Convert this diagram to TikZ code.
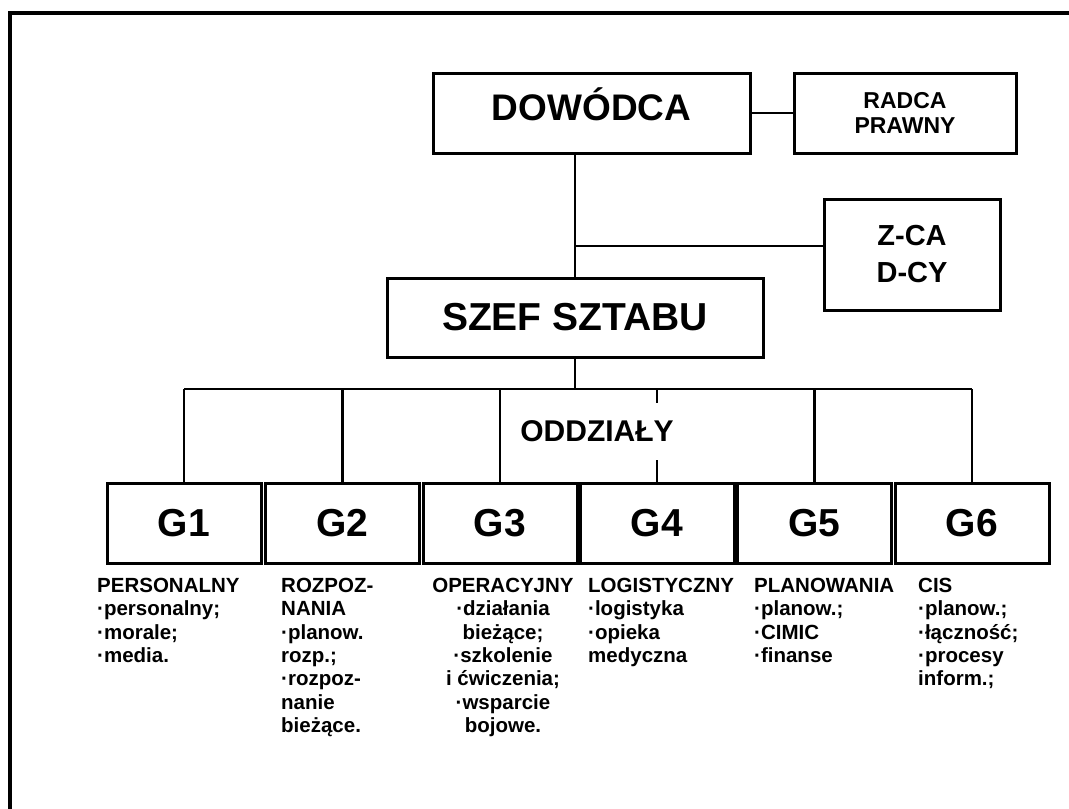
\documentclass[tikz,border=0pt]{standalone}
\usepackage{fontspec}
\setmainfont{Liberation Sans}
\usetikzlibrary{positioning}
\usetikzlibrary{calc}

\tikzset{
  box/.style={draw, line width=3pt, inner sep=0pt, align=center},
  conn/.style={line width=2.6pt},
  opis/.style={inner sep=0pt, font=\fontsize{20.5}{23.3}\selectfont\bfseries},
}

\begin{document}
\begin{tikzpicture}[x=1pt,y=-1pt]
\useasboundingbox (0,0) rectangle (1069,809);
% ramka
\draw[line width=4.5pt](10,809)--(10,13)--(1069,13);

% kierownictwo
\node[box, minimum width=317, minimum height=80, text height=14pt, text depth=0pt, font=\fontsize{37}{44}\selectfont\bfseries](dow) at (591.5,113){DOWÓDCA};
\node[box, minimum width=222, minimum height=80, font=\fontsize{23}{25}\selectfont\bfseries](radca) at (905,113){RADCA\\PRAWNY};
\node[box, minimum width=176, minimum height=111, font=\fontsize{29}{37}\selectfont\bfseries](zca) at (912,254.5){Z-CA\\D-CY};
\node[box, minimum width=376, minimum height=79, font=\fontsize{39}{46}\selectfont\bfseries](szef) at (575,317.5){SZEF SZTABU};

% oddzialy
\foreach \i/\x in {1/184,2/342.5,3/500,4/657,5/814.5,6/972}
  \node[box, minimum width=154, minimum height=80, font=\fontsize{39}{46}\selectfont\bfseries](g\i) at (\x,523){G\i};
\node[inner xsep=0pt, minimum height=57, font=\fontsize{30}{36}\selectfont\bfseries](oddz) at (597,431.5){ODDZIAŁY};

\coordinate (busL) at (g1.north |- 0,389);
\coordinate (busR) at (g6.north |- 0,389);

\draw[conn] (dow.east) -- (radca.west);
\draw[conn] (szef.north |- dow.south) -- (szef.north);
\draw[conn] (szef.north |- 0,246) -- ([yshift=8.5pt]zca.west);
\draw[conn] (szef.south) -- (szef.south |- busL);
\draw[conn] (busL) -- (busR);
\foreach \i in {1,2,3,5,6}
  \draw[conn] (g\i.north |- busL) -- (g\i.north);
\draw[conn] (g4.north |- busL) -- (g4.north |- oddz.north);
\draw[conn] (g4.north |- oddz.south) -- (g4.north);

% zadania
\node[opis, anchor=north west, align=left](t1) at (97,578){PERSONALNY\\·personalny;\\·morale;\\·media.};
\node[opis, anchor=north west, align=left](t2) at (281,578){ROZPOZ-\\NANIA\\·planow.\\rozp.;\\·rozpoz-\\nanie\\bieżące.};
\node[opis, anchor=north, align=center](t3) at (503,578){OPERACYJNY\\·działania\\bieżące;\\·szkolenie\\i ćwiczenia;\\·wsparcie\\bojowe.};
\node[opis, anchor=north west, align=left](t4) at (588,578){LOGISTYCZNY\\·logistyka\\·opieka\\medyczna};
\node[opis, anchor=north west, align=left](t5) at (754,578){PLANOWANIA\\·planow.;\\·CIMIC\\·finanse};
\node[opis, anchor=north west, align=left](t6) at (918,578){CIS\\·planow.;\\·łączność;\\·procesy\\inform.;};
\end{tikzpicture}
\end{document}
